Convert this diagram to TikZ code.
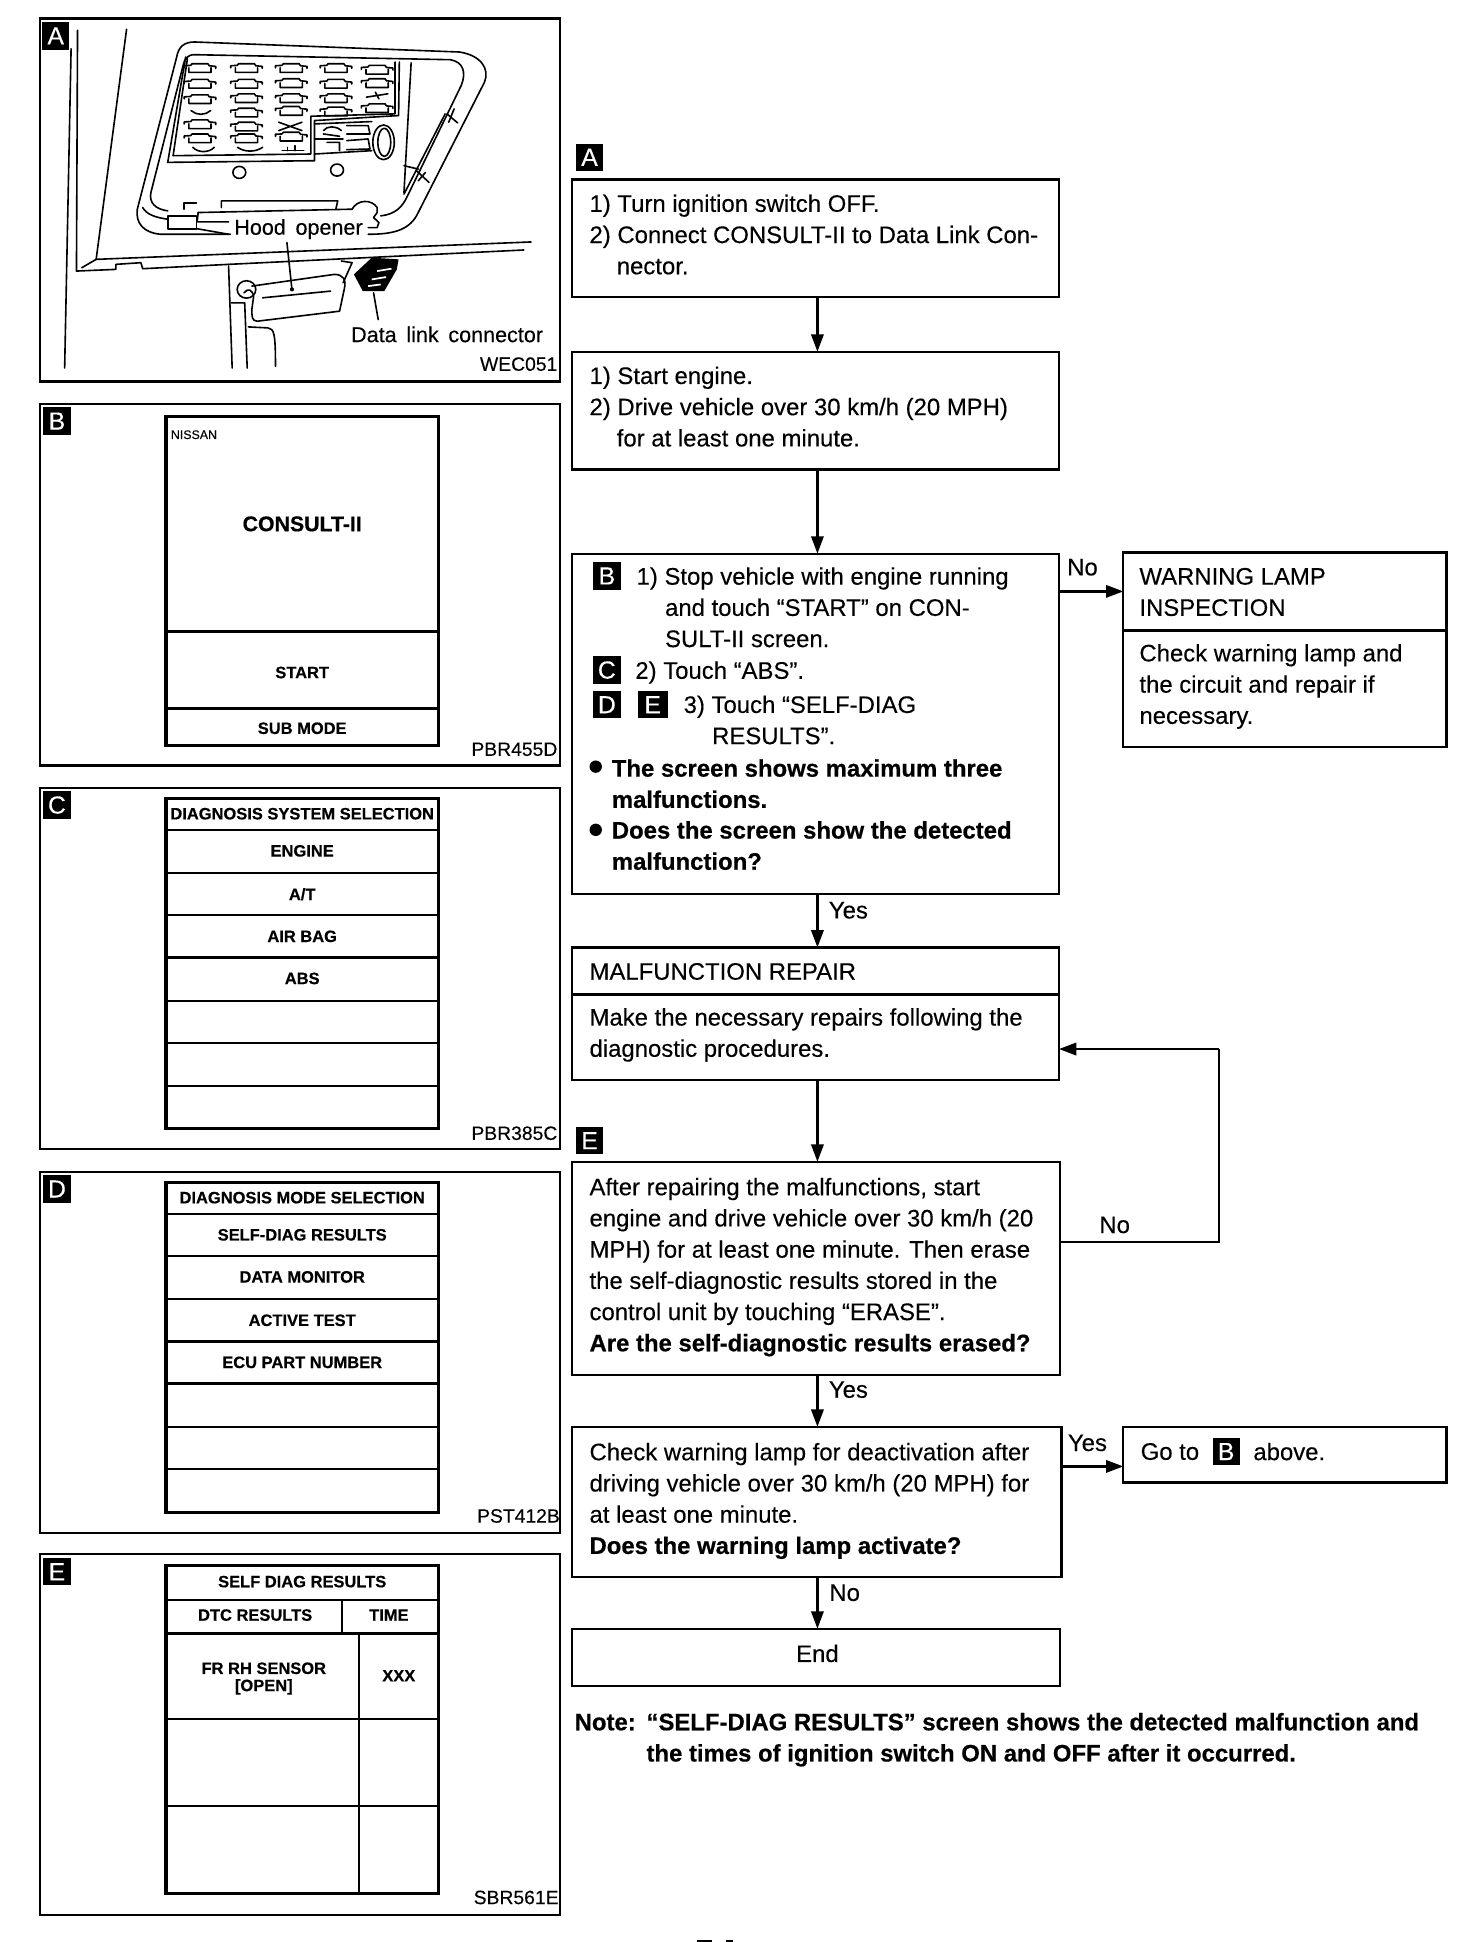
\documentclass[tikz,border=0pt]{standalone}
\usepackage{fontspec}
\setmainfont{Liberation Sans}[FakeBold=0.25,BoldFeatures={FakeBold=0.5}]
\usetikzlibrary{arrows.meta}
\newcommand{\bodyfs}{\fontsize{19.3}{25.2}\selectfont}
\newcommand{\scrfs}{\fontsize{13.3}{15}\selectfont\bfseries}
\tikzset{
  every node/.style={outer sep=0pt},
  framebox/.style={draw=black,line width=1.8pt,anchor=north west,inner sep=0pt,fill=white},
  panelbox/.style={draw=black,line width=1.8pt,anchor=north west,inner sep=0pt,minimum width=420pt},
  screenbox/.style={draw=black,line width=2.6pt,anchor=north west,inner sep=0pt,minimum width=220pt},
  para/.style={anchor=north west,inner sep=0pt,align=left,font=\bodyfs},
  lbl/.style={inner sep=0pt,font=\bodyfs},
  badge/.style={fill=black,text=white,inner sep=0pt,minimum width=22pt,minimum height=22pt,font=\fontsize{20}{20}\selectfont},
  scrtxt/.style={inner sep=0pt,font=\scrfs,align=center},
  code/.style={anchor=east,inner sep=0pt,font=\fontsize{15.6}{16}\selectfont},
  divider/.style={line width=1.9pt},
  heavyrule/.style={line width=3pt},
  thinrule/.style={line width=1.1pt},
  arr/.style={line width=1.8pt,-{Triangle[length=14pt,width=10pt]}},
  plainline/.style={line width=1.8pt},
  art/.style={line width=1.3pt,line join=round,line cap=round},
  bul/.style={circle,fill=black,inner sep=0pt,minimum size=10pt},
}
\newcommand{\fuse}[2]{%
  \draw[art] (#1-44,#2-9) -- (#1-26,#2-10) -- (#1-22,#2-15) -- (#1+22,#2-15) -- (#1+26,#2-9) -- (#1+44,#2-7)
     (#1-44,#2-9) -- (#1-44,#2-3) (#1+44,#2-7) -- (#1+44,#2-1)
     (#1-31,#2-3) -- (#1-31,#2+11) -- (#1+31,#2+11) -- (#1+31,#2-3);}
\begin{document}
\begin{tikzpicture}[x=1pt,y=-1pt]
\useasboundingbox (0,0) rectangle (1188.6,1568);
% ---------- left panels
\node[panelbox,minimum height=293pt] (pa) at (32,15) {};
\node[panelbox,minimum height=292pt] (pb) at (32,326) {};
\node[panelbox,minimum height=292pt] (pc) at (32,636) {};
\node[panelbox,minimum height=292pt] (pd) at (32,946) {};
\node[panelbox,minimum height=291pt] (pe) at (32,1255) {};
\node[badge,anchor=north west] (ba) at (34,18) {A};
\node[badge,anchor=north west] (bb) at (35,329) {B};
\node[badge,anchor=north west] (bc) at (35,639) {C};
\node[badge,anchor=north west] (bd) at (35,949) {D};
\node[badge,anchor=north west] (be) at (35,1258) {E};
\node[code] (ca) at (450,294) {WEC051};
\node[code] (cb) at (450,605) {PBR455D};
\node[code] (cc) at (450,915) {PBR385C};
\node[code] (cd) at (452,1224) {PST412B};
\node[code] (ce) at (451,1532) {SBR561E};
% panel A line art, in a scope with its own scale
\begin{scope}[shift={(15.5pt,1.2pt)},x=0.289pt,y=-0.27pt]
  \draw[art] (163,95) -- (160,815) -- (270,810) -- (270,795) -- (340,790) -- (345,808) -- (585,795);
  \draw[art] (300,92) -- (215,780) -- (175,805);
  \draw[art] (145,150) -- (127,1105);
  \draw[art] (215,780) -- (1430,728);
  \draw[art] (585,795) -- (1410,752);
  % frame
  \draw[art] (590,705) -- (395,705) .. controls (345,700) and (325,670) .. (330,630)
     -- (440,175) .. controls (445,145) and (460,130) .. (490,130)
     -- (1230,160) .. controls (1290,170) and (1315,210) .. (1300,250)
     -- (1110,650) .. controls (1085,695) and (1040,705) .. (975,705);
  \draw[art] (1010,650) .. controls (1050,645) and (1070,625) .. (1085,590)
     -- (1235,260) .. controls (1250,220) and (1240,190) .. (1205,183) -- (490,168)
     .. controls (470,168) and (462,180) .. (458,200) -- (368,580) .. controls (362,610) and (380,630) .. (415,635);
  \draw[art] (345,625) .. controls (355,645) and (380,655) .. (415,660);
  \draw[art] (1190,345) -- (1075,585);
  \draw[art] (1195,345) -- (1225,372) (1110,515) -- (1145,550) (1135,520) -- (1115,545) (1215,330) -- (1200,370);
  % fuse block
  \draw[art] (415,490) -- (465,175) (430,470) -- (470,180);
  \draw[art] (415,490) -- (825,485) -- (825,365) -- (1060,350) -- (1062,190);
  \draw[art] (430,470) -- (815,465) -- (815,352) -- (1050,345) -- (1050,190);
  \draw[art] (1095,192) -- (1075,580) (1075,500) -- (1115,510);
  \foreach \xx/\yy in {505/210,635/210,760/210,885/210,1000/215,
                       505/257,635/257,760/255,885/257,1000/255,
                       505/303,635/300,760/300,885/300,
                       635/343,760/338,885/340,1000/330,
                       505/378,635/385,
                       505/420,635/420,760/415}{
     \fuse{\xx}{\yy}
  }
  \draw[art] (480,335) .. controls (495,350) and (520,350) .. (535,335);
  \draw[art] (485,445) .. controls (500,462) and (530,462) .. (545,445);
  \draw[art] (610,445) .. controls (630,460) and (660,460) .. (680,445);
  \draw[art] (725,370) -- (790,395) (790,370) -- (725,395);
  \draw[art] (735,455) -- (795,455) (750,445) -- (750,455) (770,440) -- (770,455);
  \draw[art] (970,295) -- (1030,285) (995,280) -- (1005,300);
  \draw[art] (825,375) -- (985,368) (825,420) -- (905,420) (825,465) -- (985,455);
  \draw[art] (915,380) -- (975,380) -- (980,405) -- (915,405) (915,425) -- (975,420) -- (980,450) -- (915,452);
  \draw[art] (850,395) .. controls (860,380) and (885,380) .. (900,395) (850,405) -- (895,412) (860,430) -- (895,430) -- (895,455);
  \draw[art] (1020,430) ellipse (18 and 42);
  \draw[art] (1018,430) ellipse (30 and 52);
  \draw[art] (615,520) circle (18);
  \draw[art] (888,513) circle (18);
  % bottom strip
  \draw[art] (500,640) -- (930,630) .. controls (945,600) and (985,600) .. (1000,625) -- (1000,640) -- (990,655) -- (1005,670) -- (1000,685) -- (975,685);
  \draw[art] (415,650) -- (495,650) -- (495,690) -- (415,690) -- cycle;
  \draw[art] (500,640) -- (497,668) -- (585,668) (495,688) -- (585,705);
  \draw[art] (565,625) -- (565,605) -- (890,605) -- (885,628);
  \draw[art] (460,630) -- (460,612) -- (495,612);
  % lower parts
  \draw[art] (585,800) -- (595,1105);
  \draw[art] (592,910) -- (630,910) -- (637,1105);
  \draw[art] (640,982) -- (695,985) .. controls (712,988) and (716,1000) .. (716,1100);
  \draw[art] (650,860) -- (880,825) .. controls (905,825) and (915,840) .. (908,870) -- (895,935) -- (665,965)
     .. controls (650,965) and (650,950) .. (650,930) -- (655,890) .. controls (650,870) and (640,865) .. (628,880);
  \draw[art] (680,895) -- (870,875);
  \draw[art] (635,870) circle (26);
  \draw[art] (748,730) -- (762,870);
  \fill (762,870) circle (6);
  \draw[art] (900,785) -- (930,790) -- (905,850);
  \fill (935,825) -- (985,775) -- (1060,780) -- (1055,810) -- (1020,875) -- (960,875) -- cycle;
  \draw[white,line width=1.4pt] (1000,815) -- (1040,808) (985,840) -- (1025,833) (975,860) -- (1010,855);
  \draw[art] (990,880) -- (1003,960);
\end{scope}
\node[inner sep=0pt,font=\fontsize{17.4}{18}\selectfont] (hood) at (241,185) {Hood\hspace{3pt} opener};
\node[inner sep=0pt,font=\fontsize{17.4}{18}\selectfont] (dlc) at (361,270) {Data\hspace{3pt} link\hspace{3pt} connector};
% screen B
\node[screenbox,minimum height=266pt] (sb) at (134,336) {};
\draw[divider] (sb.west |- 0,510) -- (sb.east |- 0,510);
\draw[divider] (sb.west |- 0,572) -- (sb.east |- 0,572);
\node[anchor=west,inner sep=0pt,font=\fontsize{10}{10}\selectfont] (nis) at (138,351) {NISSAN};
\node[inner sep=0pt,font=\fontsize{17.2}{18}\selectfont\bfseries] (cons) at (244,423) {CONSULT-II};
\node[scrtxt] (st) at (244,543) {START};
\node[scrtxt] (sm) at (244,588) {SUB MODE};
% screen C
\node[screenbox,minimum height=266pt] (sc) at (134,645) {};
\foreach \yy in {670,705,739,773,808,842,877}{\draw[divider] (sc.west |- 0,\yy) -- (sc.east |- 0,\yy);}
\node[scrtxt] (c1) at (244,657) {DIAGNOSIS SYSTEM SELECTION};
\node[scrtxt] (c2) at (244,687) {ENGINE};
\node[scrtxt] (c3) at (244,722) {A/T};
\node[scrtxt] (c4) at (244,756) {AIR BAG};
\node[scrtxt] (c5) at (244,790) {ABS};
% screen D
\node[screenbox,minimum height=266pt] (sd) at (134,955) {};
\foreach \yy in {980,1014,1049,1083,1117,1152,1186}{\draw[divider] (sd.west |- 0,\yy) -- (sd.east |- 0,\yy);}
\node[scrtxt] (d1) at (244,967) {DIAGNOSIS MODE SELECTION};
\node[scrtxt] (d2) at (244,997) {SELF-DIAG RESULTS};
\node[scrtxt] (d3) at (244,1031) {DATA MONITOR};
\node[scrtxt] (d4) at (244,1066) {ACTIVE TEST};
\node[scrtxt] (d5) at (244,1100) {ECU PART NUMBER};
% screen E
\node[screenbox,minimum height=265pt] (se) at (134,1264) {};
\foreach \yy in {1292,1319,1388,1458}{\draw[divider] (se.west |- 0,\yy) -- (se.east |- 0,\yy);}
\draw[divider] (290,1319) -- (290,1529);
\draw[thinrule] (276,1292) -- (276,1319);
\node[scrtxt] (e1) at (244,1277) {SELF DIAG RESULTS};
\node[scrtxt] (e2) at (206,1304) {DTC RESULTS};
\node[scrtxt] (e3) at (314,1304) {TIME};
\node[scrtxt] (e4) at (213,1347) {FR RH SENSOR};
\node[scrtxt] (e5) at (213,1362) {[OPEN]};
\node[scrtxt] (e6) at (322,1353) {XXX};
% ---------- flow boxes
\coordinate (ax) at (660,0);
\node[badge,anchor=north west] (fa) at (465,116) {A};
\node[framebox,minimum width=393pt,minimum height=95pt] (b1) at (462,145) {};
\node[framebox,minimum width=393pt,minimum height=95pt] (b2) at (462,284) {};
\node[framebox,minimum width=393pt,minimum height=275pt] (b3) at (462,447) {};
\node[framebox,minimum width=261pt,minimum height=63pt] (wh) at (907,446) {};
\node[framebox,minimum width=261pt,minimum height=94pt] (wb) at (907,509) {};
\draw[heavyrule] (wb.north west) -- (wb.north east);
\node[framebox,minimum width=393pt,minimum height=38pt] (mh) at (462,765) {};
\node[framebox,minimum width=393pt,minimum height=69pt] (mb) at (462,803) {};
\draw[heavyrule] (mb.north west) -- (mb.north east);
\node[badge,anchor=north west] (fe) at (465,910) {E};
\node[framebox,minimum width=394pt,minimum height=172pt] (b5) at (462,938) {};
\node[framebox,minimum width=395pt,minimum height=121pt] (b6) at (462,1152) {};
\node[framebox,minimum width=261pt,minimum height=45pt] (go) at (907,1152) {};
\node[framebox,minimum width=394pt,minimum height=46pt] (en) at (462,1315) {};
% box texts: y of a node top is first baseline minus 17.64
\node[para] (t1) at (476,153.4) {\strut 1) Turn ignition switch OFF.\\2) Connect CONSULT-II to Data Link Con-\\\hspace*{22pt}nector.};
\node[para] (t2) at (476,292.4) {\strut 1) Start engine.\\2) Drive vehicle over 30 km/h (20 MPH)\\\hspace*{22pt}for at least one minute.};
\node[badge,anchor=north west] (g1) at (479,454) {B};
\node[badge,anchor=north west] (g2) at (479,530) {C};
\node[badge,anchor=north west] (g3) at (479,558) {D};
\node[badge,anchor=north west,minimum width=24pt] (g4) at (515,558) {E};
\node[para] (t3a) at (514,454.4) {\strut 1) Stop vehicle with engine running\\\hspace*{23pt}and touch “START” on CON-\\\hspace*{23pt}SULT-II screen.};
\node[para] (t3b) at (513,530.4) {\strut 2) Touch “ABS”.};
\node[para] (t3c) at (552,558) {\strut 3) Touch “SELF-DIAG\\\hspace*{23pt}RESULTS”.};
\node[bul] (k1) at (481,619) {};
\node[bul] (k2) at (481,670) {};
\node[para,font=\bodyfs\bfseries] (t3d) at (494,609.4) {\strut The screen shows maximum three\\malfunctions.};
\node[para,font=\bodyfs\bfseries] (t3e) at (494,659.4) {\strut Does the screen show the detected\\malfunction?};
\node[para] (t4) at (920,454.4) {\strut WARNING LAMP\\INSPECTION};
\node[para] (t5) at (920,516.4) {\strut Check warning lamp and\\the circuit and repair if\\necessary.};
\node[para] (t6) at (476,773.4) {\strut MALFUNCTION REPAIR};
\node[para] (t7) at (476,810.4) {\strut Make the necessary repairs following the\\diagnostic procedures.};
\node[para] (t8) at (476,947.4) {\strut After repairing the malfunctions, start\\engine and drive vehicle over 30 km/h (20\\MPH) for at least one minute. Then erase\\the self-diagnostic results stored in the\\control unit by touching “ERASE”.\\\textbf{Are the self-diagnostic results erased?}};
\node[para] (t9) at (476,1161.4) {\strut Check warning lamp for deactivation after\\driving vehicle over 30 km/h (20 MPH) for\\at least one minute.\\\textbf{Does the warning lamp activate?}};
\node[lbl] (t10) at (660,1335) {End};
\node[lbl,anchor=west] (t11) at (921,1172) {Go to};
\node[badge,anchor=north west] (g5) at (979,1161) {B};
\node[lbl,anchor=west] (t12) at (1012,1172) {above.};
\node[para,font=\bodyfs\bfseries] (n1) at (464,1379.4) {\strut Note:};
\node[para,font=\bodyfs\bfseries] (n2) at (522,1379.4) {\strut “SELF-DIAG RESULTS” screen shows the detected malfunction and\\the times of ignition switch ON and OFF after it occurred.};
% connectors
\draw[arr] (b1.south -| ax) -- (b2.north -| ax);
\draw[arr] (b2.south -| ax) -- (b3.north -| ax);
\draw[arr] (b3.east |- wh.west) -- (wh.west);
\draw[arr] (b3.south -| ax) -- (mh.north -| ax);
\draw[arr] (mb.south -| ax) -- (b5.north -| ax);
\coordinate (la) at (984,1003);
\coordinate (lb) at (984,847);
\draw[plainline] (b5.east |- la) -- (la) -- (lb);
\draw[arr] (lb) -- (lb -| mb.east);
\draw[arr] (b5.south -| ax) -- (b6.north -| ax);
\coordinate (gy) at (0,1184);
\draw[arr] (b6.east |- gy) -- (go.west |- gy);
\draw[arr] (b6.south -| ax) -- (en.north -| ax);
\node[lbl] (y1) at (685,735) {Yes};
\node[lbl] (y2) at (685,1122) {Yes};
\node[lbl] (y3) at (878,1165) {Yes};
\node[lbl] (n3) at (874,458) {No};
\node[lbl] (n4) at (900,989) {No};
\node[lbl] (n5) at (682,1286) {No};
% clipped remains of a page number at the lower edge
\fill (563,1566.5) rectangle (575,1568);
\fill (586,1566.5) rectangle (592,1568);
\end{tikzpicture}
\end{document}
